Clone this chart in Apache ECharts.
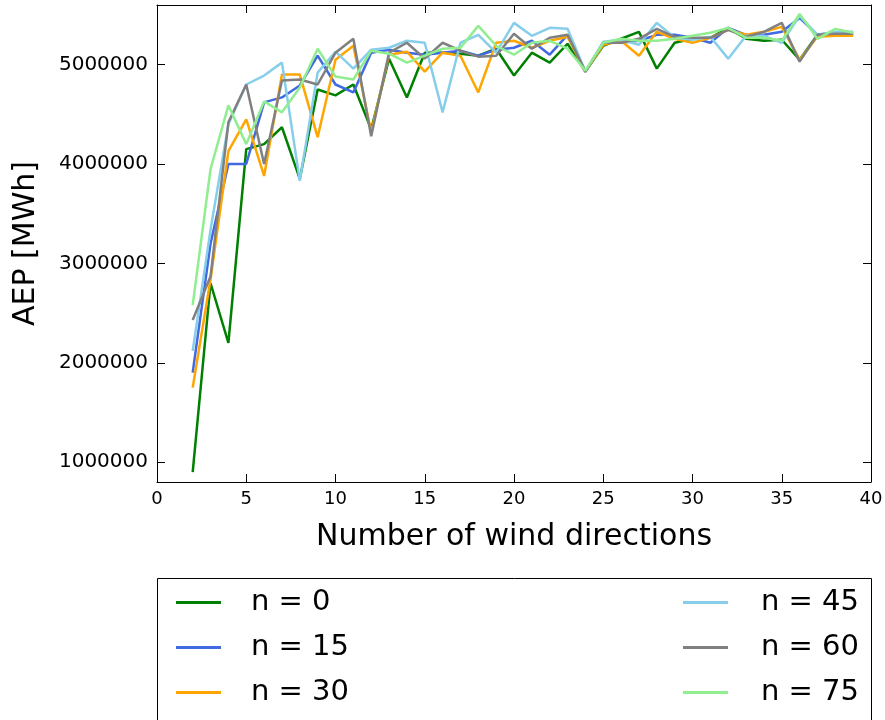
<!DOCTYPE html>
<html>
<head>
<meta charset="utf-8">
<script src="https://cdn.jsdelivr.net/npm/echarts@6/dist/echarts.min.js"></script>
<style>
  html, body { margin: 0; padding: 0; background: #fff; }
  #chart { width: 885px; height: 720px; }
</style>
</head>
<body>
<div id="chart"></div>
<script>
// Number of wind directions used in the AEP calculation
const windDirections = [2, 3, 4, 5, 6, 7, 8, 9, 10, 11, 12, 13, 14, 15, 16, 17, 18, 19, 20,
  21, 22, 23, 24, 25, 26, 27, 28, 29, 30, 31, 32, 33, 34, 35, 36, 37, 38, 39];

// AEP [MWh] per case
const aepN0 = [900000, 2800000, 2200000, 4150000, 4200000, 4370000, 3850000, 4750000, 4690000, 4800000,
  4350000, 5060000, 4670000, 5120000, 5120000, 5110000, 5090000, 5160000, 4890000, 5120000,
  5020000, 5210000, 4930000, 5190000, 5260000, 5330000, 4960000, 5220000, 5260000, 5270000,
  5370000, 5260000, 5240000, 5250000, 5050000, 5300000, 5320000, 5300000];
const aepN15 = [1900000, 3200000, 4000000, 4000000, 4620000, 4670000, 4790000, 5090000, 4800000, 4720000,
  5120000, 5150000, 5120000, 5100000, 5120000, 5140000, 5090000, 5150000, 5170000, 5240000,
  5100000, 5300000, 4930000, 5220000, 5220000, 5240000, 5300000, 5300000, 5270000, 5220000,
  5370000, 5300000, 5300000, 5330000, 5470000, 5300000, 5320000, 5320000];
const aepN30 = [1750000, 2840000, 4130000, 4450000, 3880000, 4900000, 4900000, 4270000, 5050000, 5190000,
  4320000, 5100000, 5130000, 4930000, 5120000, 5090000, 4720000, 5220000, 5240000, 5170000,
  5240000, 5280000, 4930000, 5200000, 5240000, 5090000, 5330000, 5260000, 5220000, 5270000,
  5350000, 5300000, 5330000, 5380000, 5050000, 5280000, 5290000, 5290000];
const aepN45 = [2120000, 3340000, 4400000, 4800000, 4890000, 5020000, 3830000, 4920000, 5130000, 4960000,
  5150000, 5170000, 5240000, 5220000, 4520000, 5220000, 5300000, 5120000, 5420000, 5290000,
  5370000, 5360000, 4930000, 5230000, 5250000, 5200000, 5420000, 5270000, 5250000, 5280000,
  5060000, 5290000, 5290000, 5220000, 5490000, 5300000, 5330000, 5330000];
const aepN60 = [2430000, 2870000, 4420000, 4800000, 4000000, 4840000, 4850000, 4800000, 5120000, 5260000,
  4280000, 5120000, 5220000, 5060000, 5220000, 5140000, 5080000, 5090000, 5310000, 5160000,
  5270000, 5300000, 4930000, 5220000, 5220000, 5260000, 5360000, 5280000, 5270000, 5270000,
  5350000, 5280000, 5330000, 5420000, 5030000, 5300000, 5310000, 5310000];
const aepN75 = [2580000, 3950000, 4590000, 4200000, 4630000, 4520000, 4770000, 5160000, 4880000, 4850000,
  5140000, 5110000, 5020000, 5090000, 5160000, 5170000, 5390000, 5190000, 5100000, 5220000,
  5240000, 5160000, 4940000, 5220000, 5260000, 5240000, 5240000, 5260000, 5290000, 5320000,
  5370000, 5270000, 5270000, 5240000, 5510000, 5260000, 5360000, 5320000];

const seriesNames = ['n = 0', 'n = 15', 'n = 30', 'n = 45', 'n = 60', 'n = 75'];
const seriesColors = ['#008000', '#4169E1', '#FFA500', '#87CEEB', '#808080', '#90EE90'];
const seriesValues = [aepN0, aepN15, aepN30, aepN45, aepN60, aepN75];

// Axis ticks
const xTicks = [0, 5, 10, 15, 20, 25, 30, 35, 40];
const yTicks = [1000000, 2000000, 3000000, 4000000, 5000000];

const FONT = 'DejaVu Sans';

const chart = echarts.init(document.getElementById('chart'), null, { renderer: 'canvas' });

const plotLeft = 157, plotTop = 5, plotWidth = 714, plotHeight = 477;

const baseX = {
  type: 'value', min: 0, max: 40, interval: 5,
  axisLine: { show: true, onZero: false, lineStyle: { color: '#000', width: 1 } },
  axisTick: { show: true, inside: true, length: 8, lineStyle: { color: '#000', width: 1 } },
  splitLine: { show: false }
};
const baseY = {
  type: 'value', min: 800000, max: 5600000,
  axisLine: { show: true, onZero: false, lineStyle: { color: '#000', width: 1 } },
  axisTick: { show: true, inside: true, length: 8, customValues: yTicks, lineStyle: { color: '#000', width: 1 } },
  splitLine: { show: false }
};

const option = {
  backgroundColor: '#fff',
  animation: false,
  grid: {
    left: plotLeft, top: plotTop, width: plotWidth, height: plotHeight,
    containLabel: false, outerBoundsMode: 'none'
  },
  xAxis: [
    Object.assign({}, baseX, {
      position: 'bottom',
      name: 'Number of wind directions',
      nameLocation: 'middle',
      nameGap: 40,
      nameTextStyle: { fontFamily: FONT, fontSize: 30, color: '#000' },
      axisLabel: { show: true, margin: 8, fontFamily: FONT, fontSize: 18, color: '#000',
        customValues: xTicks, formatter: v => String(v) }
    }),
    Object.assign({}, baseX, { position: 'top', axisLabel: { show: false } })
  ],
  yAxis: [
    Object.assign({}, baseY, {
      position: 'left',
      name: 'AEP [MWh]',
      nameLocation: 'middle',
      nameGap: 116,
      nameTextStyle: { fontFamily: FONT, fontSize: 30, color: '#000' },
      axisLabel: { show: true, margin: 9, fontFamily: FONT, fontSize: 20, color: '#000',
        customValues: yTicks, formatter: v => String(v) }
    }),
    Object.assign({}, baseY, { position: 'right', axisLabel: { show: false } })
  ],
  legend: [
    {
      data: seriesNames.slice(0, 3),
      orient: 'vertical', left: 176, top: 588, padding: 0,
      icon: 'rect', itemWidth: 45, itemHeight: 3, itemGap: 16,
      selectedMode: false,
      textStyle: { fontFamily: FONT, fontSize: 29, color: '#000', padding: [0, 0, 0, 25] }
    },
    {
      data: seriesNames.slice(3, 6),
      orient: 'vertical', left: 683, top: 588, padding: 0,
      icon: 'rect', itemWidth: 45, itemHeight: 3, itemGap: 16,
      selectedMode: false,
      textStyle: { fontFamily: FONT, fontSize: 29, color: '#000', padding: [0, 0, 0, 28] }
    }
  ],
  graphic: [
    {
      type: 'rect', z: -1, silent: true,
      shape: { x: 157.5, y: 578.5, width: 714, height: 200 },
      style: { fill: '#fff', stroke: '#000', lineWidth: 1 }
    }
  ],
  series: seriesNames.map((name, i) => ({
    name: name,
    type: 'line',
    xAxisIndex: 0,
    yAxisIndex: 0,
    symbol: 'none',
    showSymbol: false,
    color: seriesColors[i],
    lineStyle: { color: seriesColors[i], width: 2.5 },
    data: windDirections.map((d, k) => [d, seriesValues[i][k]])
  }))
};

chart.setOption(option);
</script>
</body>
</html>
